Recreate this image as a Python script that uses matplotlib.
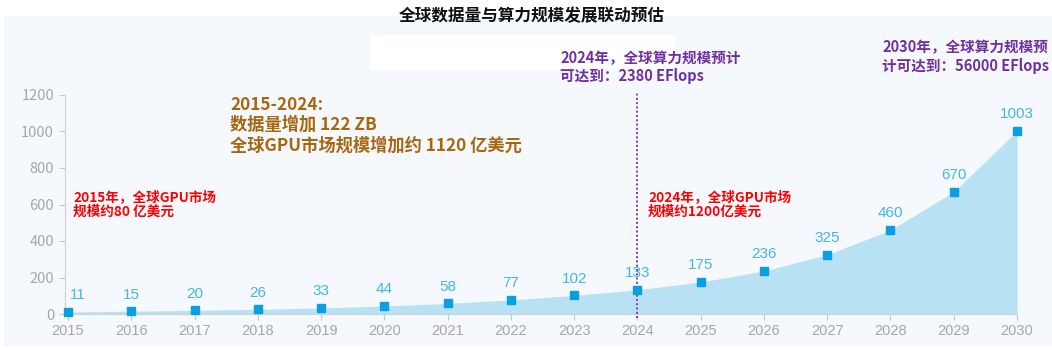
import numpy as np
import matplotlib.pyplot as plt
import matplotlib.patches as patches

plt.rcParams['font.family'] = ['Noto Sans CJK SC', 'DejaVu Sans']

years = [2015, 2016, 2017, 2018, 2019, 2020, 2021, 2022,
         2023, 2024, 2025, 2026, 2027, 2028, 2029, 2030]
values = [11, 15, 20, 26, 33, 44, 58, 77,
          102, 133, 175, 236, 325, 460, 670, 1003]
yticks = [0, 200, 400, 600, 800, 1000, 1200]

title = '全球数据量与算力规模发展联动预估'
note_range = '2015-2024:\n数据量增加 122 ZB\n全球GPU市场规模增加约 1120 亿美元'
note_gpu2015 = '2015年，全球GPU市场\n规模约80 亿美元'
note_gpu2024 = '2024年，全球GPU市场\n规模约1200亿美元'
note_cp2024 = '2024年，全球算力规模预计\n可达到：2380 EFlops'
note_cp2030 = '2030年，全球算力规模预\n计可达到：56000 EFlops'

W, H = 1052, 350
fig = plt.figure(figsize=(W / 100, H / 100), dpi=100)
fig.patch.set_facecolor('white')

# light panel behind the chart
fig.patches.append(patches.Rectangle((4 / W, 4 / H), 1 - 4 / W, (H - 20) / H,
                                     transform=fig.transFigure, facecolor='#f5f9fd',
                                     edgecolor='none', zorder=-2))
# white box near the top
fig.patches.append(patches.Rectangle((370 / W, 1 - 70 / H), 305 / W, 35 / H,
                                     transform=fig.transFigure, facecolor='white',
                                     edgecolor='none', zorder=-1))

ax = fig.add_axes([68 / W, 36 / H, (1017 - 68) / W, (314 - 95) / H])
ax.set_facecolor('none')

ax.fill_between(years, values, 0, color='#b8e2f4', lw=0, zorder=2)
ax.plot(years, values, ls='none', marker='s', ms=5.5, color='#0a9fe0', zorder=4,
        clip_on=False)

for i, (x, v) in enumerate(zip(years, values)):
    dx = 7 if i == 0 else 0
    ax.annotate(str(v), (x, v), xytext=(dx, 7), textcoords='offset points',
                ha='center', va='bottom', fontsize=11, color='#45b4e8',
                family='Liberation Sans', zorder=5)

ax.axvline(2024, ymin=-0.02, ymax=1.01, color='#7a3cb0', ls=(0, (1, 1.2)), lw=1.4,
           zorder=3, clip_on=False)

ax.set_xlim(2015, 2030)
ax.set_ylim(0, 1200)
ax.set_xticks(years)
ax.set_yticks(yticks)
ax.tick_params(axis='both', colors='#c8c8c8', labelcolor='#a6a6a6', labelsize=10.5,
               length=4)
for lab in ax.get_xticklabels() + ax.get_yticklabels():
    lab.set_family('Liberation Sans')
ax.tick_params(axis='y', pad=4)
ax.tick_params(axis='x', pad=3)
for s in ['top', 'right']:
    ax.spines[s].set_visible(False)
ax.spines['left'].set_color('#d0d0d0')
ax.spines['bottom'].set_color('#d0d0d0')
ax.spines['left'].set_position(('outward', 2))

fig.text(532 / W, 1 - 16 / H, title, ha='center', va='center', fontsize=12,
         fontweight='bold', color='#111111')

fig.text(230 / W, 1 - 96 / H, note_range, ha='left', va='top', fontsize=12.4,
         fontweight='bold', color='#a8660f', linespacing=1.15)
fig.text(73 / W, 1 - 190 / H, note_gpu2015, ha='left', va='top', fontsize=9.8,
         fontweight='bold', color='#ff0000', linespacing=1.1)
fig.text(648 / W, 1 - 190 / H, note_gpu2024, ha='left', va='top', fontsize=9.8,
         fontweight='bold', color='#ff0000', linespacing=1.1)
fig.text(560 / W, 1 - 50 / H, note_cp2024, ha='left', va='top', fontsize=10.5,
         fontweight='bold', color='#7030a0', linespacing=1.12)
fig.text(882 / W, 1 - 39 / H, note_cp2030, ha='left', va='top', fontsize=10.5,
         fontweight='bold', color='#7030a0', linespacing=1.22)

fig.savefig('out.png', dpi=100, facecolor=fig.get_facecolor())
